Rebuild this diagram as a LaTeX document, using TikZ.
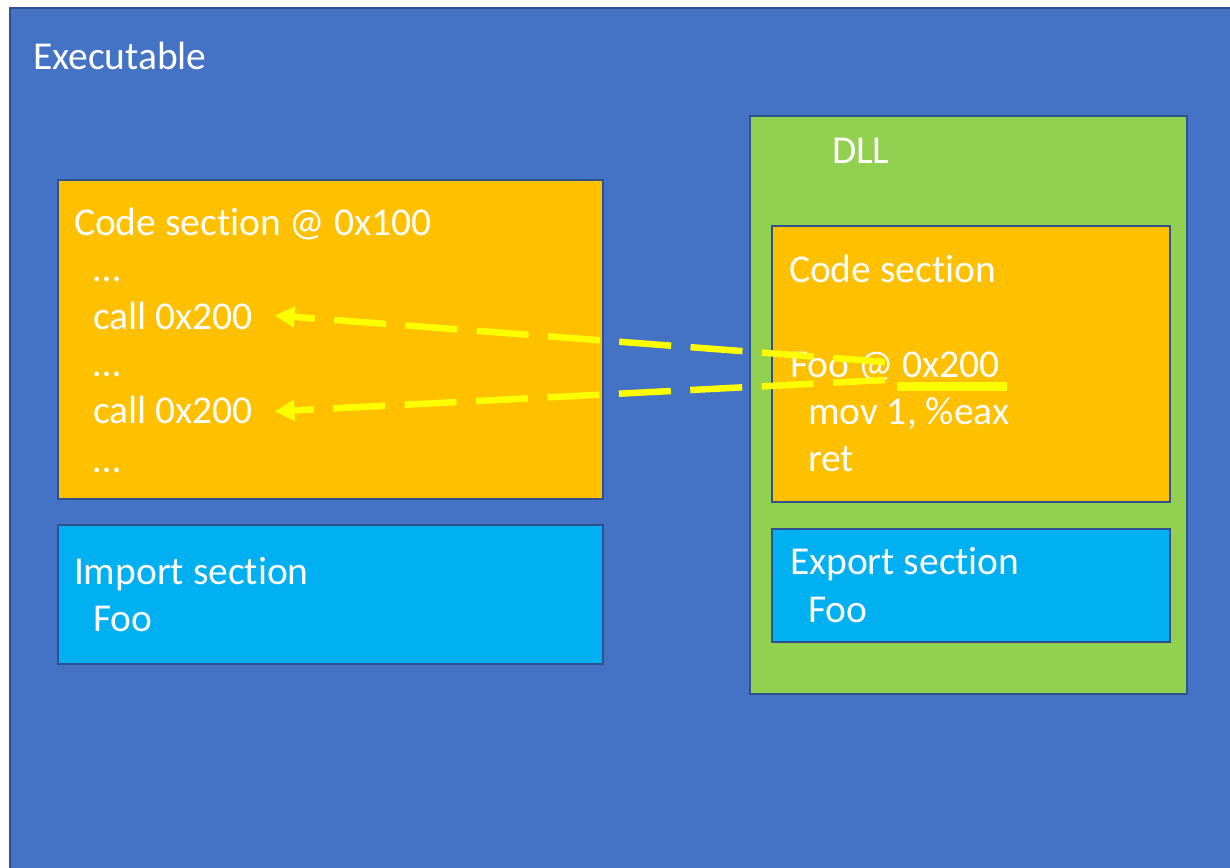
\documentclass[tikz,border=0pt]{standalone}
\usepackage{fontspec}
\setmainfont{Carlito}[Ligatures={NoCommon}]
\usetikzlibrary{arrows.meta}
\definecolor{exeblue}{HTML}{4472C4}
\definecolor{edgeblue}{HTML}{2F528F}
\definecolor{codeorange}{HTML}{FFC000}
\definecolor{sectcyan}{HTML}{00B0F0}
\definecolor{dllgreen}{HTML}{92D050}
\definecolor{linkyellow}{HTML}{FFFF00}
\begin{document}
\begin{tikzpicture}[x=1pt,y=-1pt,
  panel/.style={draw=edgeblue,line width=1.6pt,inner sep=0pt,outer sep=0pt},
  lbl/.style={anchor=base west,inner sep=0pt,outer sep=0pt,text=white,
    font=\fontsize{39.5}{47}\selectfont},
  link/.style={draw=linkyellow,line width=6.5pt,dash pattern=on 52pt off 19.5pt,
    -{Triangle[length=20pt,width=20pt]}},
]
\useasboundingbox (0,0) rectangle (1230,867);
\clip (0,0) rectangle (1230,867);
\fill[white] (0,0) rectangle (1230,867);
\draw[black!25,line width=1pt] (9.2,8) -- (9.2,880);

% executable image
\path[panel,fill=exeblue] (10,8) rectangle (1260,900);
\node[lbl] (exe) at (33,69) {Executable};

% executable code section
\path[panel,fill=codeorange] (58,180) rectangle (603,499);
\node[lbl] (code) at (74,235) {Code section @ 0x100};
\node[lbl] (dots1) at (93,281) {…};
\node[lbl] (call1) at (93,329) {call 0x200};
\node[lbl] (dots2) at (93,376) {…};
\node[lbl] (call2) at (93,423) {call 0x200};
\node[lbl] (dots3) at (93,472) {…};

% executable import section
\path[panel,fill=sectcyan] (58,525) rectangle (603,664);
\node[lbl] (imp) at (74,584) {Import section};
\node[lbl] (impfoo) at (93,631) {Foo};

% DLL
\path[panel,fill=dllgreen] (750,116) rectangle (1187,694);
\node[lbl] (dll) at (832,163) {DLL};

\path[panel,fill=codeorange] (772,226) rectangle (1170,502);
\node[lbl] (dllcode) at (789,282) {Code section};
\node[lbl] (foo) at (790,377) {Foo @ 0x200};
\node[lbl] (mov) at (808,424) {mov 1, \%eax};
\node[lbl] (ret) at (808,471) {ret};

\path[panel,fill=sectcyan] (772,529) rectangle (1170,642);
\node[lbl] (exp) at (790,574) {Export section};
\node[lbl] (expfoo) at (808,622) {Foo};

% resolved address of Foo
\draw[linkyellow,line width=9pt] (897,386) -- (1007,386);

% calls jumping to Foo
\coordinate (src1) at (885,362);
\coordinate (src2) at (885,380);
\draw[link] (src1) -- ([xshift=22pt]call1.east);
\draw[link] (src2) -- ([xshift=22pt,yshift=-2pt]call2.east);
\end{tikzpicture}
\end{document}
